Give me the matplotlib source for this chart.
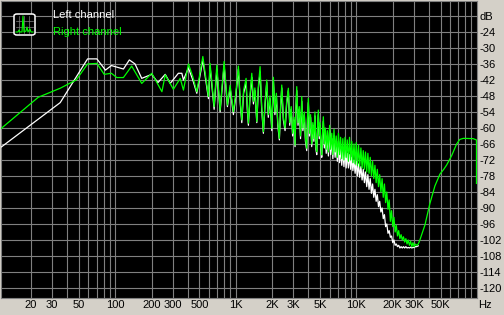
import numpy as np
import matplotlib.pyplot as plt
from matplotlib.patches import FancyBboxPatch
from matplotlib.lines import Line2D

# spectrum analyser style plot

# low band, point by point
right_lo_hz = [11.4, 23, 35, 47.5, 59, 70.5, 81, 93, 103, 117,
               137, 166, 201, 244, 260, 304, 346, 368, 405, 440,
               475, 533, 568, 593, 612, 661, 696, 741, 800, 852,
               897, 955]
right_lo_db = [-60.1, -48.5, -45.1, -42, -36, -35.8, -39.9, -39.5, -41.1, -41.1,
               -36.8, -43.3, -39.5, -46.4, -40.1, -45.5, -41.4, -45.8, -36, -40.8,
               -46.4, -33.2, -42, -48.2, -35.8, -52, -36.4, -53.3, -35.1, -51.4,
               -44, -53.9]

left_lo_hz = [11.4, 35, 59, 70.5, 83, 93, 117, 131, 146, 166,
              201, 226, 260, 286, 334, 357, 368, 405, 440, 475,
              533, 568, 593, 612, 661, 696, 741, 800, 852, 897,
              955]
left_lo_db = [-67.1, -50.5, -34.1, -34.1, -38.3, -36.6, -37.9, -34.5, -36, -41.4,
              -39.9, -43, -39.9, -43.3, -39.5, -39.5, -42, -37.5, -42, -47,
              -34.5, -43, -49, -37, -53, -38, -54, -36.5, -52, -45,
              -55]

# noisy part 1k..32k, both channels on the same bins
noise_hz = [1000, 1051, 1090, 1121, 1160, 1217, 1245, 1272, 1310, 1357,
            1400, 1440, 1493, 1540, 1590, 1640, 1693, 1750, 1806, 1860,
            1920, 1988, 2049, 2110, 2170, 2230, 2297, 2350, 2405, 2480,
            2562, 2640, 2728, 2800, 2880, 2960, 3040, 3099, 3150, 3202,
            3280, 3360, 3440, 3523, 3600, 3700, 3780, 3874, 3930, 3995,
            4080, 4170, 4260, 4350, 4440, 4530, 4620, 4690, 4760, 4834,
            4920, 5000, 5080, 5160, 5240, 5320, 5420, 5520, 5620, 5740,
            5860, 6000, 6120, 6250, 6380, 6520, 6660, 6800, 6950, 7100,
            7250, 7400, 7560, 7720, 7880, 8050, 8220, 8400, 8580, 8770,
            8960, 9150, 9350, 9550, 9760, 9970, 10200, 10420, 10650, 10900,
            11150, 11400, 11650, 11900, 12180, 12450, 12730, 13020, 13320, 13620,
            13930, 14250, 14580, 14910, 15250, 15600, 15960, 16330, 16700, 17080,
            17470, 17870, 18280, 18700, 19130, 19570, 20020, 20480, 20950, 21430,
            21920, 22420, 22940, 23470, 24010, 24560, 25130, 25710, 26300, 26900,
            27520, 28150, 28800, 29460, 30140, 30830, 31540]
right_noise_db = [-47, -36.8, -50, -57, -46, -41.4, -52, -58.2, -48, -39.5,
                  -50, -45, -57.6, -44, -37, -52, -61.4, -50, -42, -55,
                  -48, -60.1, -41, -54, -47, -58, -63.9, -52, -43.9, -56,
                  -60, -50, -45.1, -58, -52, -62, -56, -66.4, -52, -44.5,
                  -58, -52, -63, -48.2, -60, -54, -64, -67.6, -56, -48.9,
                  -62, -55, -66, -58, -64, -54, -67, -68.9, -60, -53.3,
                  -63, -58, -67, -70.1, -62, -55.8, -66, -60, -68, -61,
                  -69, -59, -68, -62, -70, -60.5, -69, -63, -71, -62,
                  -70, -63.5, -71.5, -64, -72, -63.5, -71, -64.5, -72.5, -63.5,
                  -72, -65, -73, -66, -73.5, -65.5, -74, -66.5, -74.5, -67.5,
                  -75, -68.5, -75.5, -69, -76.5, -69.5, -77, -71, -78, -72.5,
                  -79, -74, -80.5, -75.5, -82, -77.5, -84, -79, -86, -81,
                  -88, -84, -90.5, -87, -95, -91, -97, -93.5, -99, -96.5,
                  -100.5, -98.5, -101.5, -100, -102, -100.8, -102.8, -101.5, -103.5, -102,
                  -104, -102.5, -104.5, -103, -104.5, -103.5, -104]
left_noise_db = [-48, -38, -51, -58, -47, -43, -53, -59, -49, -41,
                 -51, -46, -58, -45, -39, -53, -62, -51, -43, -56,
                 -49, -61, -42, -55, -48, -59, -64.5, -53, -45, -57,
                 -61, -51, -46, -59, -53, -63, -57, -67, -53, -46,
                 -59, -53, -64, -50, -61, -55, -65, -68.5, -57, -50.5,
                 -63, -56, -67, -59, -65, -55.5, -68, -70, -61, -55,
                 -64, -59, -68, -71, -63, -57.5, -67.5, -61.5, -69.5, -63,
                 -70.5, -61, -70, -64, -71.5, -63, -71, -65.5, -72.5, -65,
                 -73, -67, -74, -68, -74.5, -68.5, -75, -69.5, -75, -70,
                 -75.5, -71, -76, -72, -77, -72.5, -78, -73.5, -78.5, -74.5,
                 -79.5, -75.5, -80.5, -76.5, -82, -77.5, -83, -79, -84.5, -81,
                 -86, -83, -87.5, -85, -89.5, -87.5, -91.5, -90, -94, -92.5,
                 -97, -96, -99.5, -98.5, -101, -100.5, -103, -102, -104, -103.5,
                 -104.5, -104, -105, -104.5, -105, -104.5, -105, -104.5, -105, -104.8,
                 -105, -104.7, -105, -104.8, -104.8, -104.5, -104.5]

# right channel above the dip (left is hidden under it)
right_hi_hz = [32600, 33600, 37000, 40700, 44800, 49300, 53000, 56000, 61600, 67800,
               72000, 77000, 93000, 99000, 99000]
right_hi_db = [-103.5, -102, -96.4, -88.3, -81.7, -77.3, -75.5, -73.9, -70.4, -66,
               -64.3, -63.9, -64, -64.5, -80.8]
left_hi_hz = [32600]
left_hi_db = [-104.2]

db_ticks = [-18, -24, -30, -36, -42, -48, -54, -60, -66, -72, -78, -84,
            -90, -96, -102, -108, -114, -120]
hz_ticks = [20, 30, 50, 100, 200, 300, 500, 1000, 2000, 3000, 5000,
            10000, 20000, 30000, 50000]
hz_labels = ['20', '30', '50', '100', '200', '300', '500', '1K', '2K', '3K', '5K',
             '10K', '20K', '30K', '50K']

assert len(noise_hz) == len(right_noise_db) == len(left_noise_db)

right_hz = np.array(right_lo_hz + noise_hz + right_hi_hz, dtype=float)
right_db = np.array(right_lo_db + right_noise_db + right_hi_db)
left_hz = np.array(left_lo_hz + noise_hz + left_hi_hz, dtype=float)
left_db = np.array(left_lo_db + left_noise_db + left_hi_db)

W, H = 504, 315
panel = '#d4d0c8'
gridc = '#808080'
green = '#00ff00'
plt.rcParams['font.family'] = ['Liberation Sans', 'DejaVu Sans']

fig = plt.figure(figsize=(W / 100, H / 100), dpi=100, facecolor=panel)
ax = fig.add_axes([1 / W, 17 / H, 476 / W, 297 / H])
ax.set_facecolor('black')

ax.plot(left_hz, left_db, color='white', lw=0.9, zorder=3)
ax.plot(right_hz, right_db, color=green, lw=0.9, zorder=4)

ax.set_xscale('log')

# grid at 1..9 per decade, but not 10 Hz (it would stretch the axis)
minor = [d * k for d in (10, 100, 1000, 10000) for k in range(1, 10) if d * k > 11.3]
ax.set_xticks(minor, minor=True)
ax.set_xticks(hz_ticks)
ax.set_xticklabels(hz_labels)
ax.xaxis.set_minor_formatter(plt.NullFormatter())
ax.yaxis.tick_right()
ax.set_yticks(db_ticks)
ax.set_yticklabels(['dB'] + [str(v) for v in db_ticks[1:]])
ax.set_xlim(11.3, 100000)
ax.set_ylim(-123.75, -12.4)
ax.tick_params(axis='both', which='both', length=0, labelsize=8, labelcolor='black')
ax.tick_params(axis='x', pad=1.5)
ax.tick_params(axis='y', pad=2)
ax.grid(which='both', color=gridc, lw=0.8)
ax.set_axisbelow(True)
for s in ax.spines.values():
    s.set_color(gridc)

fig.text(478 / W, 1 - 305 / H, 'Hz', fontsize=8, va='center', ha='left')

# legend
fx = lambda p: p / W
fy = lambda p: 1 - p / H
box = FancyBboxPatch((fx(14), fy(35)), 21 / W, 21 / H,
                     boxstyle='round,pad=0,rounding_size=0.006',
                     ec='white', fc='black', lw=1.1, transform=fig.transFigure)
fig.add_artist(box)
for gx in (19, 24, 29):
    fig.add_artist(Line2D([fx(gx), fx(gx)], [fy(16), fy(33)], color=gridc, lw=0.5))
for gy in (21, 27):
    fig.add_artist(Line2D([fx(16), fx(33)], [fy(gy), fy(gy)], color=gridc, lw=0.5))
gxs = [16, 18, 19, 20, 22, 23, 24, 26, 27, 28, 30, 31, 33]
gys = [32, 32, 30, 32, 32, 16, 32, 31, 27, 32, 29, 32, 32]
fig.add_artist(Line2D([fx(p) for p in gxs], [fy(p) for p in gys], color=green, lw=0.8))

fig.text(fx(53), fy(15), 'Left channel', color='white', fontsize=8, va='center')
fig.text(fx(53), fy(32), 'Right channel', color=green, fontsize=8, va='center')

fig.savefig('out.png', dpi=100, facecolor=panel)
